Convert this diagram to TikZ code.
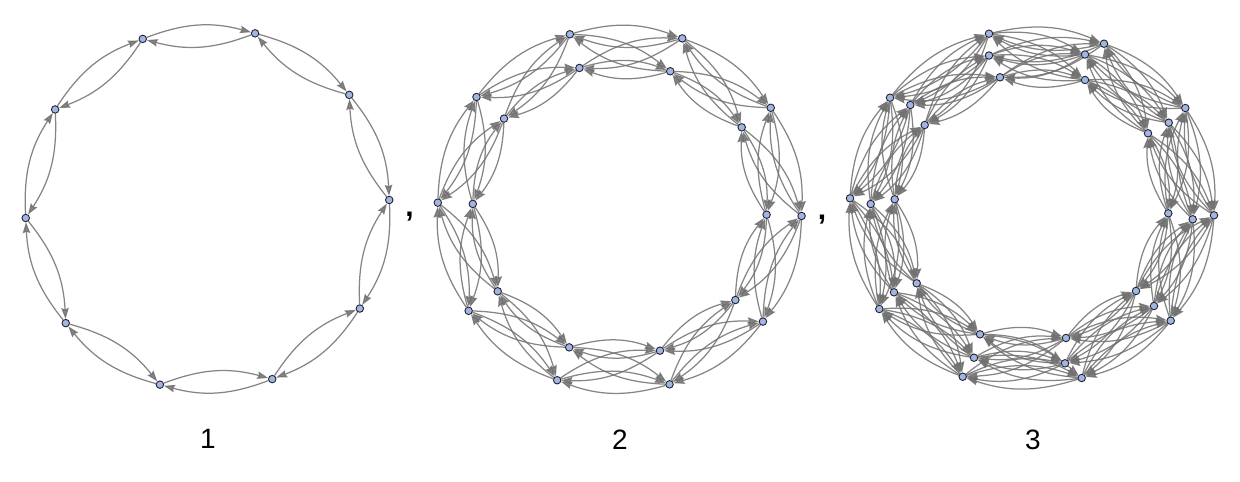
\documentclass[tikz,border=0pt]{standalone}
\usepackage{fontspec}
\setmainfont{Liberation Sans}
\usetikzlibrary{arrows.meta}
\pgfdeclarelayer{bg}
\pgfsetlayers{bg,main}
\definecolor{edgec}{RGB}{112,112,112}
\definecolor{vfill}{RGB}{160,182,228}
\definecolor{vline}{RGB}{35,35,45}
\begin{document}
\begin{tikzpicture}[x=1pt,y=-1pt,
  vtx/.style={circle,draw=vline,fill=vfill,line width=0.9pt,inner sep=0pt,minimum size=7.5pt},
  arc/.style={draw=edgec,line width=1.25pt,opacity=0.85,-{Stealth[length=11pt,width=7.5pt,inset=1.5pt]},bend left=18},
  lbl/.style={font=\fontsize{28}{30}\selectfont,anchor=base,inner sep=0pt},
  sep/.style={font=\bfseries\fontsize{30}{32}\selectfont,anchor=base,inner sep=0pt}]
\useasboundingbox (0,0) rectangle (1240,482);
% ---------- graph 1 ----------
\foreach \k in {0,...,9}{
  \pgfmathsetmacro\ang{2.84+36*\k}
  \node[vtx] (a\k) at ({207.5+182*cos(\ang)},{209-182*sin(\ang)}) {};
}
\begin{pgfonlayer}{bg}
\foreach \k in {0,...,9}{
  \pgfmathtruncatemacro\n{mod(\k+1,10)}
  \draw[arc] (a\k) to (a\n);
  \draw[arc] (a\n) to (a\k);
}
\end{pgfonlayer}
% ---------- graph 2 ----------
\foreach \k in {0,...,9}{
  \pgfmathsetmacro\ang{-2.1+36*\k}
  \node[vtx] (b\k0) at ({619.7+182*cos(\ang)},{209.3-182*sin(\ang)}) {};
  \node[vtx] (b\k1) at ({619.7+147*cos(\ang)},{209.3-147*sin(\ang)}) {};
}
\begin{pgfonlayer}{bg}
\foreach \k in {0,...,9}{
  \pgfmathtruncatemacro\n{mod(\k+1,10)}
  \foreach \i in {0,1}{\foreach \j in {0,1}{
    \draw[arc] (b\k\i) to (b\n\j);
    \draw[arc] (b\n\j) to (b\k\i);
  }}
}
\end{pgfonlayer}
% ---------- graph 3 ----------
\foreach \g/\i/\x/\y in {
  0/0/989/33.7, 0/1/989/55.5, 0/2/1000/77.3,
  1/0/1104/43.7, 1/1/1085/54.5, 1/2/1085/80,
  2/0/1185.3/108, 2/1/1168.7/122.7, 2/2/1148/133.3,
  3/0/1214/215.3, 3/1/1192.7/219.3, 3/2/1168.3/213.3,
  4/0/1170.7/320.7, 4/1/1154/306, 4/2/1136/291,
  5/0/1081.7/378, 5/1/1065/363.3, 5/2/1066/338,
  6/0/962.7/376.7, 6/1/974/357.7, 6/2/980/334.3,
  7/0/879.3/309, 7/1/894/292.3, 7/2/916.7/283.3,
  8/0/850/198.3, 8/1/870.7/204, 8/2/894.7/199.3,
  9/0/890/97.7, 9/1/910.3/105, 9/2/924.7/125}{
  \node[vtx] (c\g\i) at (\x,\y) {};
}
\begin{pgfonlayer}{bg}
\foreach \k in {0,...,9}{
  \pgfmathtruncatemacro\n{mod(\k+1,10)}
  \foreach \i in {0,1,2}{\foreach \j in {0,1,2}{
    \draw[arc] (c\k\i) to (c\n\j);
    \draw[arc] (c\n\j) to (c\k\i);
  }}
}
\end{pgfonlayer}
% ---------- labels ----------
\node[lbl] (l1) at (208,448) {1};
\node[lbl] (l2) at (620,449) {2};
\node[lbl] (l3) at (1033,449) {3};
\node[sep] (s1) at (409.5,216) {,};
\node[sep] (s2) at (822,219) {,};
\end{tikzpicture}
\end{document}
